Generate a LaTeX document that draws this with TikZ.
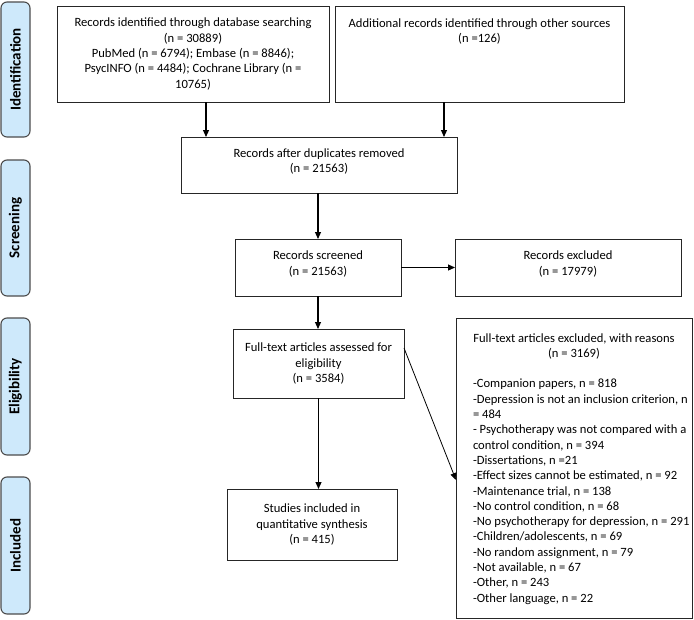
\documentclass[tikz,border=0pt]{standalone}
\usepackage{fontspec}
\setmainfont{Carlito}
\usetikzlibrary{arrows.meta,calc}
\definecolor{tabblue}{RGB}{206,233,251}
\newcommand\fbx[4]{\begin{minipage}[c][#2][#3]{#1}\centering #4\end{minipage}}
\tikzset{
  box/.style={draw=black!85, line width=0.9pt, inner sep=0pt, outer sep=0pt, anchor=north west,
    font=\fontsize{12.6}{15.3}\selectfont},
  tabbox/.style={draw=black!70, line width=1.1pt, fill=tabblue, rounded corners=6pt, rotate=90,
    minimum height=29pt, inner sep=0pt, font=\fontsize{15}{18}\selectfont\bfseries},
  arr/.style={line width=1.1pt, -{Triangle[length=7pt,width=6pt]}},
  thinarr/.style={line width=0.8pt, -{Triangle[length=7pt,width=6pt]}}
}
\begin{document}
\begin{tikzpicture}[x=1pt,y=-1pt]
\useasboundingbox (0,0) rectangle (694,619);
% side tabs
\node[tabbox, minimum width=135pt] (t1) at (15.5,69.5) {Identification};
\node[tabbox, minimum width=136pt] (t2) at (15.5,228) {Screening};
\node[tabbox, minimum width=137pt] (t3) at (15.5,386.5) {Eligibility};
\node[tabbox, minimum width=137pt] (t4) at (15.5,545.5) {Included};
% boxes
\node[box] (a) at (57,6) {\fbx{272pt}{96pt}{c}{Records identified through database searching\\
(n = 30889)\\PubMed (n = 6794); Embase (n = 8846);\\PsycINFO (n = 4484); Cochrane Library (n =\\10765)}};
\node[box] (b) at (335,6) {\fbx{289pt}{96pt}{t}{\rule{0pt}{21pt}Additional records identified through other sources\\(n =126)}};
\node[box] (c) at (181,137) {\fbx{276pt}{56pt}{c}{Records after duplicates removed\\(n = 21563)\rule[-9pt]{0pt}{9pt}}};
\node[box] (d) at (235,239) {\fbx{166pt}{57pt}{c}{Records screened\\(n = 21563)\rule[-9pt]{0pt}{9pt}}};
\node[box] (e) at (455,239) {\fbx{226pt}{57pt}{c}{Records excluded\\(n = 17979)\rule[-9pt]{0pt}{9pt}}};
\node[box] (f) at (233,329) {\fbx{171pt}{69pt}{c}{Full-text articles assessed for\\eligibility\\(n = 3584)}};
\node[box] (g) at (227,489) {\fbx{170pt}{71pt}{c}{Studies included in\\quantitative synthesis\\(n = 415)}};
\node[box] (h) at (456,318) {\begin{minipage}[c][300pt][t]{236pt}
\centering\rule{0pt}{24pt}Full-text articles excluded, with reasons\\
(n = 3169)\par
\vspace{\baselineskip}
\raggedright\leftskip=17pt
-Companion papers, n = 818\\
-Depression is not an inclusion criterion, n\\
= 484\\
- Psychotherapy was not compared with a\\
control condition, n = 394\\
-Dissertations, n =21\\
-Effect sizes cannot be estimated, n = 92\\
-Maintenance trial, n = 138\\
-No control condition, n = 68\\
-No psychotherapy for depression, n = 291\\
-Children/adolescents, n = 69\\
-No random assignment, n = 79\\
-Not available, n = 67\\
-Other, n = 243\\
-Other language, n = 22\par
\end{minipage}};
% connectors
\draw[arr] ([xshift=13pt]a.south) -- ([xshift=13pt]a.south |- c.north);
\draw[arr] ([xshift=-35.5pt]b.south) -- ([xshift=-35.5pt]b.south |- c.north);
\draw[arr] (d.north |- c.south) -- (d.north);
\draw[arr] (d.east) -- (e.west);
\draw[arr] (d.south) -- (d.south |- f.north);
\draw[arr] (f.south) -- (f.south |- g.north);
\draw[thinarr] ([yshift=15.5pt]f.east) -- ([yshift=-12pt]h.west);
\end{tikzpicture}
\end{document}
